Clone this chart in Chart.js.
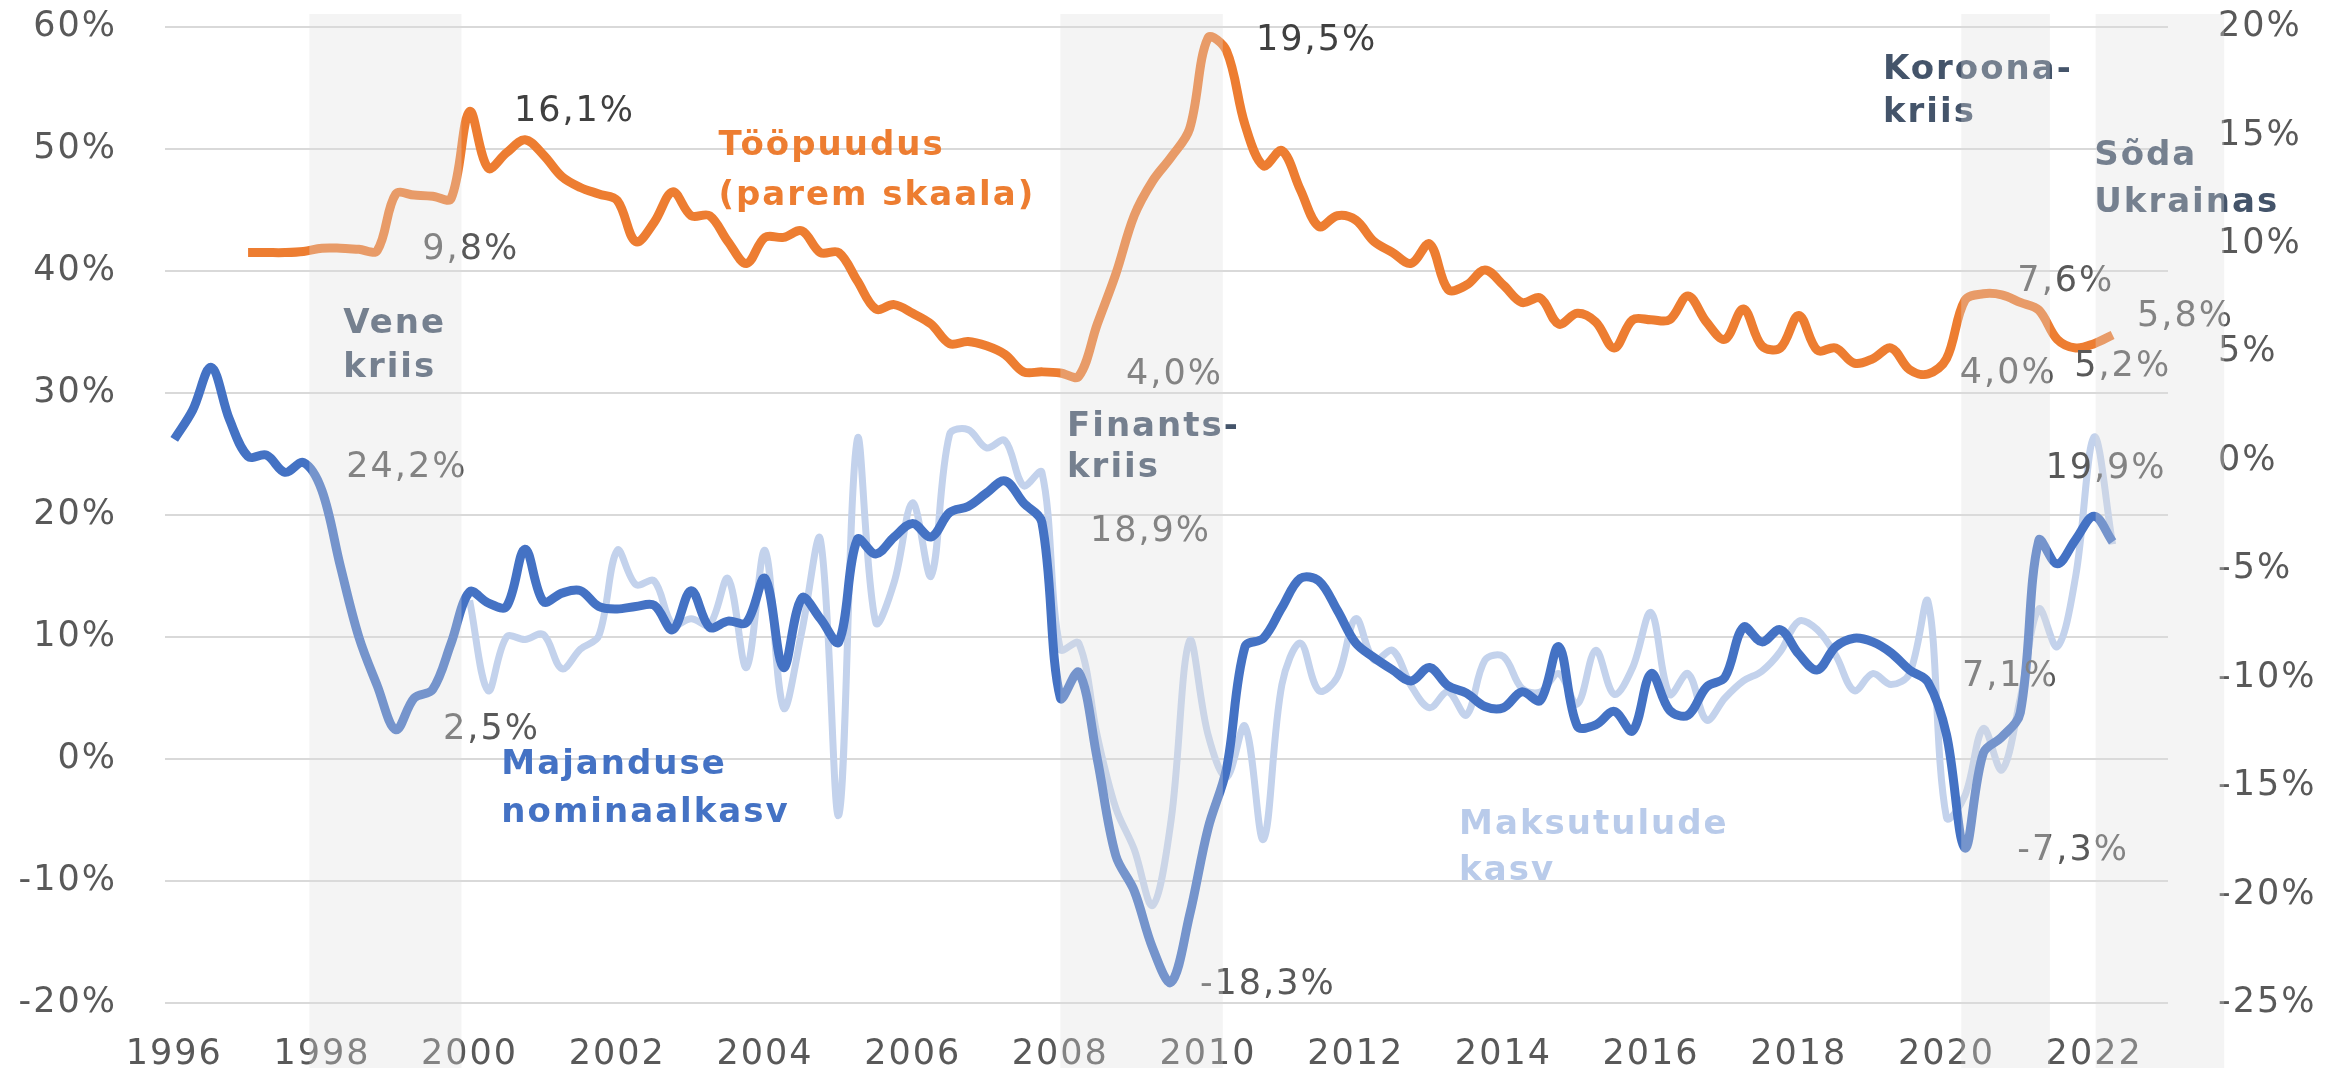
<!DOCTYPE html>
<html>
<head>
<meta charset="utf-8">
<script src="https://cdn.jsdelivr.net/npm/chart.js@4.4.1/dist/chart.umd.min.js"></script>
<style>
html,body{margin:0;padding:0;background:#ffffff;}
#wrap{width:2341px;height:1068px;position:relative;}
</style>
</head>
<body>
<div id="wrap"><canvas id="c"></canvas></div>
<script>
// ---------- categories (quarters 1996Q1 .. 2022Q2) ----------
const quarters = [];
for (let y = 1996; y <= 2022; y++) for (let q = 1; q <= 4; q++) quarters.push(y + 'Q' + q);
quarters.length = 106;

// ---------- tick labels ----------
const xTickYears = [1996, 1998, 2000, 2002, 2004, 2006, 2008, 2010, 2012, 2014, 2016, 2018, 2020, 2022];
const leftTicks = [-20, -10, 0, 10, 20, 30, 40, 50, 60];
const rightTicks = [-25, -20, -15, -10, -5, 0, 5, 10, 15, 20];

// ---------- series (quarterly, %) ----------
// Majanduse nominaalkasv (left axis), from 1996Q1
const nominalGrowth = [
  26.2, 28.6, 32.1, 27.8,
  24.8, 24.9, 23.5, 24.3,
  22.0, 15.8, 10.0, 6.0,
  2.4, 5.0, 5.7, 9.5,
  13.7, 12.8, 12.5, 17.2,
  12.9, 13.6, 13.8, 12.5,
  12.3, 12.5, 12.6, 10.6,
  13.8, 10.8, 11.3, 11.2,
  14.8, 7.5, 13.2, 11.5,
  9.6, 18.0, 16.8, 18.2,
  19.3, 18.2, 20.2, 20.7,
  21.8, 22.8, 21.0, 19.4,
  5.0, 7.1, 0.0, -7.9,
  -10.8, -15.5, -18.3, -12.8,
  -5.7, -0.8, 9.2, 9.9,
  12.4, 14.8, 14.6, 12.2,
  9.5, 8.3, 7.3, 6.4,
  7.5, 6.0, 5.4, 4.3,
  4.2, 5.5, 4.8, 9.2,
  2.7, 2.8, 3.9, 2.3,
  7.0, 4.0, 3.6, 5.9,
  6.7, 10.8, 9.6, 10.6,
  8.6, 7.3, 9.2, 9.9,
  9.6, 8.7, 7.3, 6.3,
  2.0, -7.3, 0.5, 1.8,
  3.8, 17.9, 16.0, 18.0,
  19.9, 17.8
];
// Maksutulude kasv (left axis), from 2000Q1
const taxGrowth = [
  null, null, null, null,
  null, null, null, null,
  null, null, null, null,
  null, null, null, null,
  13.0, 5.6, 10.0, 9.8,
  10.2, 7.4, 9.0, 10.1,
  17.1, 14.3, 14.6, 11.0,
  11.5, 11.0, 14.8, 7.5,
  17.1, 4.2, 10.5, 18.0,
  -4.6, 26.2, 11.2, 14.5,
  21.0, 15.0, 26.6, 27.0,
  25.5, 26.1, 22.4, 23.5,
  9.0, 9.5, 1.9, -4.0,
  -7.4, -12.0, -5.0, 9.7,
  2.0, -1.5, 2.7, -6.6,
  6.1, 9.5, 5.6, 6.7,
  11.5, 8.1, 8.9, 6.0,
  4.2, 5.5, 3.6, 8.1,
  8.4, 5.8, 5.5, 7.0,
  4.5, 8.9, 5.3, 7.5,
  12.0, 5.3, 7.0, 3.2,
  5.0, 6.4, 7.2, 8.8,
  11.3, 10.6, 8.5, 5.6,
  7.0, 6.1, 7.0, 12.9,
  -4.8, -3.0, 2.5, -0.9,
  5.0, 12.3, 9.2, 15.0,
  26.4, 17.6
];
// Tööpuudus (right axis), from 1997Q1
const unemployment = [
  null, null, null, null,
  9.6, 9.6, 9.6, 9.65,
  9.8, 9.8, 9.75, 9.7,
  12.3, 12.25, 12.2, 12.1,
  16.1, 13.5, 14.2, 14.8,
  14.1, 13.1, 12.6, 12.3,
  12.0, 10.1, 11.0, 12.4,
  11.3, 11.3, 10.1, 9.1,
  10.3, 10.3, 10.6, 9.6,
  9.6, 8.3, 7.0, 7.2,
  6.8, 6.3, 5.4, 5.5,
  5.3, 4.9, 4.1, 4.1,
  4.05, 3.9, 6.3, 8.6,
  11.3, 12.9, 14.0, 15.3,
  19.5, 18.9, 15.5, 13.6,
  14.3, 12.5, 10.8, 11.3,
  11.1, 10.1, 9.6, 9.1,
  10.0, 7.9, 8.1, 8.8,
  8.1, 7.3, 7.5, 6.3,
  6.8, 6.4, 5.2, 6.5,
  6.5, 6.5, 7.6, 6.4,
  5.6, 7.0, 5.3, 5.2,
  6.7, 5.1, 5.2, 4.5,
  4.7, 5.2, 4.2, 4.0,
  4.7, 7.4, 7.7, 7.65,
  7.3, 6.95, 5.6, 5.2,
  5.4, 5.8
];

// ---------- crisis periods (years) ----------
const crisisFrom = [1997.83, 2008.0, 2020.2, 2022.02];
const crisisTo   = [1999.89, 2010.2, 2021.4, 2023.76];

// ---------- annotations: text, year, left-axis value ----------
const annText = ['16,1%', '9,8%', '19,5%', '4,0%', '18,9%', '24,2%', '2,5%', '-18,3%', '7,6%', '5,8%', '4,0%', '5,2%', '19,9%', '7,1%', '-7,3%'];
const annYear = [2000.60, 1999.36, 2010.65, 2008.89, 2008.40, 1998.33, 1999.64, 2009.89, 2020.96, 2022.58, 2020.18, 2021.73, 2021.34, 2020.21, 2020.96];
const annVal  = [53.0, 41.7, 58.9, 31.5, 18.6, 23.9, 2.4, -18.5, 39.1, 36.2, 31.6, 32.1, 23.8, 6.7, -7.5];
const annDark = [true, false, true, false, false, false, false, false, false, false, false, false, false, false, false];

const labelText = ['Tööpuudus', '(parem skaala)', 'Majanduse', 'nominaalkasv', 'Maksutulude', 'kasv',
                   'Vene', 'kriis', 'Finants-', 'kriis', 'Koroona-', 'kriis', 'Sõda', 'Ukrainas'];
const labelYear = [2003.37, 2003.37, 2000.43, 2000.43, 2013.40, 2013.40,
                   1998.29, 1998.29, 2008.09, 2008.09, 2019.14, 2019.14, 2022.0, 2022.0];
const labelVal  = [50.25, 46.15, -0.5, -4.45, -5.4, -9.2,
                   35.65, 32.05, 27.2, 23.85, 56.5, 52.95, 49.45, 45.55];
const labelKind = ['orange', 'orange', 'blue', 'blue', 'light', 'light',
                   'crisis', 'crisis', 'crisis', 'crisis', 'crisis', 'crisis', 'crisis', 'crisis'];

// ---------- build library data ----------
function qToYear(q) { const p = q.split('Q'); return +p[0] + (+p[1] - 1) / 4; }
function toXY(arr) {
  const out = [];
  arr.forEach((v, i) => { if (v !== null && v !== undefined) out.push({ x: qToYear(quarters[i]), y: v }); });
  return out;
}

const FONT = 'DejaVu Sans';
const kindColor = { orange: '#ED7D31', blue: '#4472C4', light: '#B9CBEA', crisis: '#44546A' };

function noPad(s) { s.paddingTop = 0; s.paddingBottom = 0; s.paddingLeft = 0; s.paddingRight = 0; }

const annotPlugin = {
  id: 'annot',
  beforeDraw(chart) {
    chart.ctx.letterSpacing = '2px';
  },
  afterDatasetsDraw(chart) {
    const ctx = chart.ctx, xs = chart.scales.x, ys = chart.scales.y;
    ctx.save();
    ctx.textAlign = 'left';
    ctx.textBaseline = 'middle';
    ctx.font = '35px "' + FONT + '"';
    ctx.letterSpacing = '2px';
    annText.forEach((t, i) => {
      ctx.fillStyle = annDark[i] ? '#404040' : '#595959';
      ctx.fillText(t, xs.getPixelForValue(annYear[i]), ys.getPixelForValue(annVal[i]));
    });
    ctx.font = 'bold 34px "' + FONT + '"';
    ctx.letterSpacing = '2px';
    labelText.forEach((t, i) => {
      ctx.fillStyle = kindColor[labelKind[i]];
      ctx.fillText(t, xs.getPixelForValue(labelYear[i]), ys.getPixelForValue(labelVal[i]));
    });
    ctx.restore();
  },
  afterDraw(chart) {
    const ctx = chart.ctx, xs = chart.scales.x;
    const top = chart.chartArea.top - 13;
    ctx.save();
    ctx.fillStyle = 'rgba(220,220,220,0.32)';
    crisisFrom.forEach((f, i) => {
      const x1 = xs.getPixelForValue(f), x2 = xs.getPixelForValue(crisisTo[i]);
      ctx.fillRect(x1, top, x2 - x1, chart.height - top);
    });
    ctx.restore();
  }
};

Chart.defaults.font.family = FONT;

new Chart(document.getElementById('c'), {
  type: 'line',
  data: {
    datasets: [
      { label: 'Majanduse nominaalkasv', data: toXY(nominalGrowth), yAxisID: 'y',
        borderColor: '#4472C4', borderWidth: 9, pointRadius: 0, tension: 0.35, fill: false },
      { label: 'Maksutulude kasv', data: toXY(taxGrowth), yAxisID: 'y',
        borderColor: '#C3D2EC', borderWidth: 7, pointRadius: 0, tension: 0.35, fill: false },
      { label: 'Tööpuudus (parem skaala)', data: toXY(unemployment), yAxisID: 'y2',
        borderColor: '#ED7D31', borderWidth: 9, pointRadius: 0, tension: 0.35, fill: false }
    ]
  },
  options: {
    responsive: true,
    maintainAspectRatio: false,
    devicePixelRatio: 1,
    animation: false,
    layout: { padding: { top: 27, left: 0, right: 0, bottom: 0 } },
    plugins: { legend: { display: false }, tooltip: { enabled: false } },
    scales: {
      x: {
        type: 'linear', min: 1995.875, max: 2023.0,
        grid: { display: false, drawTicks: false }, border: { display: false },
        afterBuildTicks: s => { s.ticks = xTickYears.map(v => ({ value: v })); },
        afterFit: s => { s.height = 65; noPad(s); },
        ticks: { autoSkip: false, maxRotation: 0, padding: 31, color: '#595959',
                 font: { family: FONT, size: 35 }, callback: v => String(v) }
      },
      y: {
        position: 'left', min: -20, max: 60,
        afterBuildTicks: s => { s.ticks = leftTicks.map(v => ({ value: v })); },
        afterFit: s => { s.width = 165; noPad(s); },
        grid: { color: '#D9D9D9', lineWidth: 2, drawTicks: false }, border: { display: false },
        ticks: { padding: 48, color: '#595959', font: { family: FONT, size: 35 }, callback: v => v + '%' }
      },
      y2: {
        position: 'right', min: -25, max: 20,
        afterBuildTicks: s => { s.ticks = rightTicks.map(v => ({ value: v })); },
        afterFit: s => { s.width = 173; noPad(s); },
        grid: { display: false, drawTicks: false }, border: { display: false },
        ticks: { padding: 50, color: '#595959', font: { family: FONT, size: 35 }, callback: v => v + '%' }
      }
    }
  },
  plugins: [annotPlugin]
});
</script>
</body>
</html>
